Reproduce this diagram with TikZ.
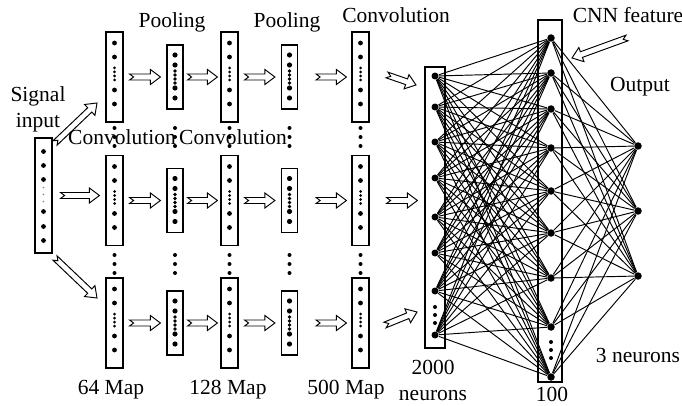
\documentclass[tikz,border=0pt]{standalone}
\usepackage{fontspec}
\setmainfont{Liberation Serif}
\usetikzlibrary{calc}

\tikzset{
  col/.style={draw, line width=1.1pt, inner sep=0pt, minimum width=17pt},
  conv/.style={col, minimum height=90pt},
  pool/.style={col, minimum width=16pt, minimum height=64pt},
  lab/.style={font=\fontsize{21.5}{26}\selectfont, inner sep=0pt, align=center},
  dot/.style={circle, fill, inner sep=0pt, minimum size=#1},
  dot/.default=7pt,
  fat/.style 2 args={draw, fill=white, line width=1pt, line join=miter, to path={
    let \p1=($(\tikztostart)!#1!(\tikztotarget)$),
        \p2=($(\tikztotarget)!#2!(\tikztostart)$),
        \n1={atan2(\y2-\y1,\x2-\x1)},
        \n2={veclen(\x2-\x1,\y2-\y1)}
    in {[shift={(\p1)}, rotate=\n1]
      (0pt,3pt) -- (\n2-10pt,3pt) -- (\n2-10pt,7.5pt) -- (\n2,0pt)
      -- (\n2-10pt,-7.5pt) -- (\n2-10pt,-3pt) -- (0pt,-3pt) -- (4pt,0pt) -- cycle}}}
}

\begin{document}
\begin{tikzpicture}[x=1pt, y=-1pt, line width=0.95pt]
  \useasboundingbox (0,0) rectangle (682,406);

  % input signal
  \node (in) [col, minimum height=115pt] at (43.5,195.5) {};
  \foreach \d in {-44,-30,-16,16,31,45} \fill (43.5,195.5+\d) circle (2.4pt);
  \foreach \d in {-8,-1,6} \fill[gray] (43.5,195.5+\d) circle (0.9pt);

  % convolution and pooling maps, three rows
  \foreach \r/\y in {t/77, m/200.5, b/323} {
    \node (c1\r) [conv] at (114.5,\y) {};
    \node (p1\r) [pool] at (175,\y) {};
    \node (c2\r) [conv] at (229.5,\y) {};
    \node (p2\r) [pool] at (289.5,\y) {};
    \node (c3\r) [conv] at (360.5,\y) {};
    \foreach \x in {114.5,229.5,360.5} {
      \foreach \d in {-34,-20,13,27} \fill (\x,\y+\d) circle (2.4pt);
      \foreach \d in {-9,-5,-1,3} \fill (\x,\y+\d) circle (1.5pt);
    }
    \foreach \x in {175,289.5} {
      \foreach \d in {-22,-12,11,21} \fill (\x,\y+\d) circle (2.6pt);
      \foreach \d in {-6,-2,2,6} \fill (\x,\y+\d) circle (1.8pt);
    }
  }
  \foreach \x in {114.5,175,229.5,289.5,360.5}
    \foreach \y in {128,137,146,255,264,273} \fill (\x,\y) circle (2pt);

  % fully connected part
  \node (hid) [col, minimum width=20pt, minimum height=281pt] at (435,207.5) {};
  \node (feat) [col, minimum width=24pt, minimum height=362pt] at (550,201) {};
  \foreach \y [count=\i] in {76,107,142,178,217,253,291,335}
    \node (h\i) [dot] at (435,\y) {};
  \foreach \y [count=\j] in {38,73,109,148,191,233,278,327,377}
    \node (f\j) [dot=7.5pt] at (551,\y) {};
  \foreach \y [count=\k] in {146,211,276}
    \node (o\k) [dot=7.5pt] at (638,\y) {};
  \foreach \y in {307,315,323} \fill (435,\y) circle (2pt);
  \foreach \y in {342,350,358} \fill (551,\y) circle (2pt);
  \foreach \i in {1,...,8}
    \foreach \j in {1,...,9} \draw (h\i) -- (f\j);
  \foreach \j in {1,...,9}
    \foreach \k in {1,2,3} \draw (f\j) -- (o\k);

  % hollow arrows
  \coordinate (a1) at (55,143);   \coordinate (a2) at (97,103);
  \coordinate (a3) at (55,258);   \coordinate (a4) at (97,298);
  \coordinate (b1) at (387,75);   \coordinate (b2) at (416,85);
  \coordinate (b3) at (385,325);  \coordinate (b4) at (417,312);
  \coordinate (cf1) at (627,38);  \coordinate (cf2) at (572,58);
  \draw (a1) to[fat={0pt}{0pt}] (a2);
  \draw (a3) to[fat={0pt}{0pt}] (a4);
  \draw (in.east) to[fat={8pt}{6pt}] (in.east -| c1m.west);
  \foreach \r in {t,m,b} {
    \draw (c1\r.east) to[fat={6pt}{6pt}] (p1\r.west);
    \draw (p1\r.east) to[fat={4pt}{3pt}] (c2\r.west);
    \draw (c2\r.east) to[fat={6pt}{6pt}] (p2\r.west);
    \draw (p2\r.east) to[fat={18pt}{5pt}] (c3\r.west);
  }
  \draw (b1) to[fat={0pt}{0pt}] (b2);
  \draw (c3m.east) to[fat={17pt}{7pt}] (c3m.east -| hid.west);
  \draw (b3) to[fat={0pt}{0pt}] (b4);
  \draw (cf1) to[fat={0pt}{0pt}] (cf2);

  % labels
  \node (tsig) [lab] at (38,109) {Signal\\input};
  \node (tp1) [lab] at (172,22) {Pooling};
  \node (tp2) [lab] at (287,22) {Pooling};
  \node (tc3) [lab] at (396,15) {Convolution};
  \node (tc1) [lab] at (122,137) {Convolution};
  \node (tc2) [lab] at (233,137) {Convolution};
  \node (tm1) [lab] at (111,390) {64 Map};
  \node (tm2) [lab] at (228,390) {128 Map};
  \node (tm3) [lab] at (346,390) {500 Map};
  \node (thid) [lab] at (433,380) {2000\\neurons};
  \node (tfeat) [lab] at (552,394) {100};
  \node (tcnn) [lab] at (628,15) {CNN feature};
  \node (tout) [lab] at (640,87) {Output};
  \node (tneu) [lab] at (638,355) {3 neurons};
\end{tikzpicture}
\end{document}
